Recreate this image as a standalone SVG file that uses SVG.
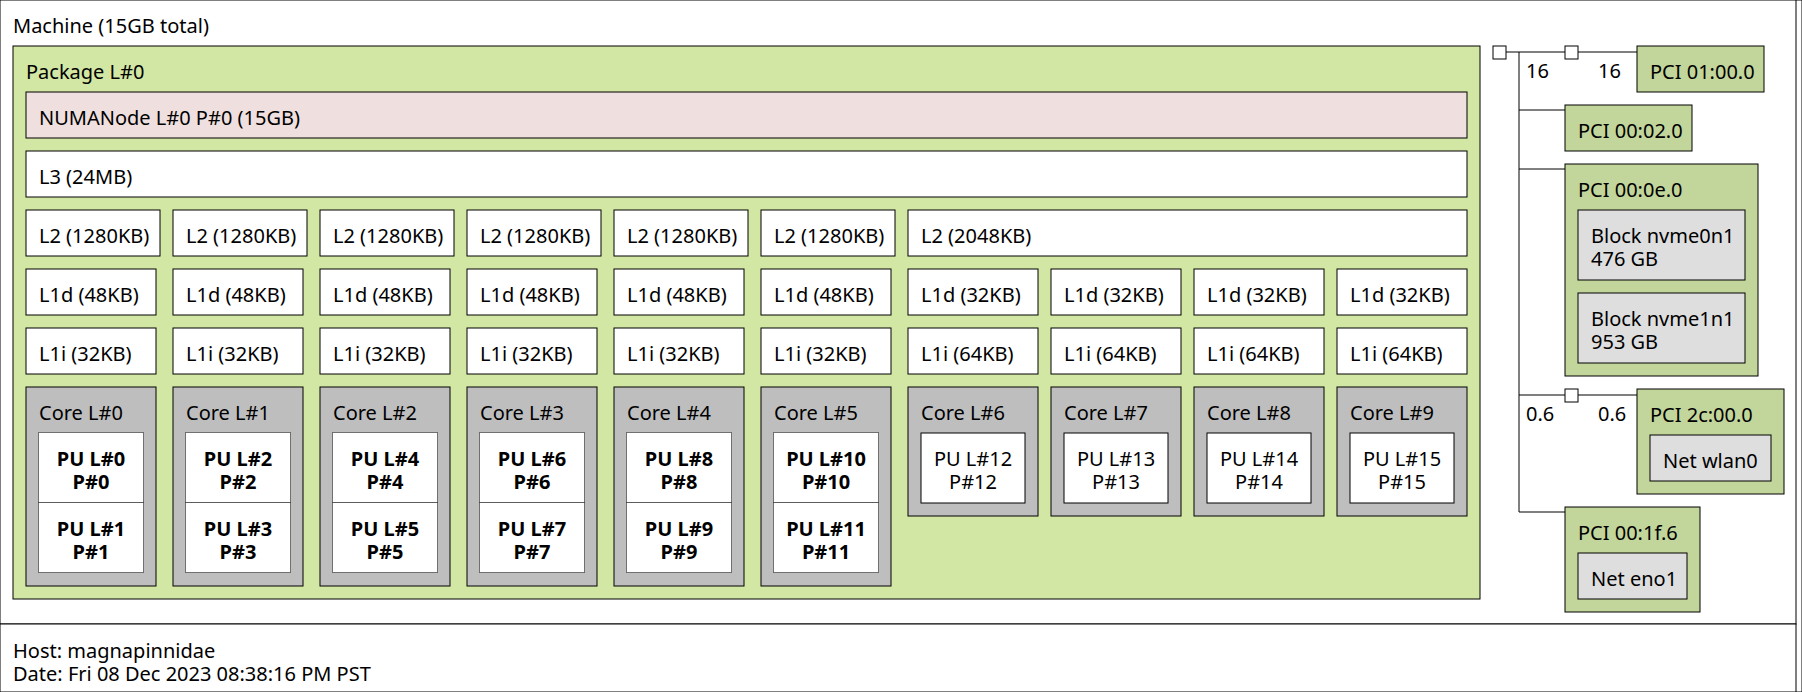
<svg xmlns="http://www.w3.org/2000/svg" width="1802" height="692" viewBox="0 0 1802 692">
<style>
text{font-family:"Noto Sans","Open Sans",sans-serif;font-size:20px;fill:#000}
rect{stroke:#000;stroke-width:1}
.pkg{fill:#d2e7a4}
.numa{fill:#efdfde}
.cache{fill:#fff}
.core{fill:#bebebe}
.pu{fill:#fff}
.pud{fill:#fff;stroke-dasharray:1 1}
.pci{fill:#c2d59b}
.os{fill:#dedede}
.br{fill:#fff}
.bd{font-weight:bold}
.c{text-anchor:middle}
.ln{stroke:#000;stroke-width:1;fill:none}
</style>
<rect x="0" y="0" width="1802" height="692" fill="#fff" stroke="none"/>
<g id="machine"><rect x="0" y="0" width="1796" height="624" fill="#fff"/><text x="13" y="33">Machine (15GB total)</text></g>
<g id="package"><rect class="pkg" x="13" y="46" width="1467" height="553"/><text x="26" y="79">Package L#0</text></g>
<g id="numa0"><rect class="numa" x="26" y="92" width="1441" height="46"/><text x="39" y="125">NUMANode L#0 P#0 (15GB)</text></g>
<g id="l3"><rect class="cache" x="26" y="151" width="1441" height="46"/><text x="39" y="184">L3 (24MB)</text></g>
<g id="l2-0"><rect class="cache" x="26" y="210" width="134" height="46"/><text x="39" y="243">L2 (1280KB)</text></g>
<g id="l2-1"><rect class="cache" x="173" y="210" width="134" height="46"/><text x="186" y="243">L2 (1280KB)</text></g>
<g id="l2-2"><rect class="cache" x="320" y="210" width="134" height="46"/><text x="333" y="243">L2 (1280KB)</text></g>
<g id="l2-3"><rect class="cache" x="467" y="210" width="134" height="46"/><text x="480" y="243">L2 (1280KB)</text></g>
<g id="l2-4"><rect class="cache" x="614" y="210" width="134" height="46"/><text x="627" y="243">L2 (1280KB)</text></g>
<g id="l2-5"><rect class="cache" x="761" y="210" width="134" height="46"/><text x="774" y="243">L2 (1280KB)</text></g>
<g id="l2-6"><rect class="cache" x="908" y="210" width="559" height="46"/><text x="921" y="243">L2 (2048KB)</text></g>
<g id="l1d-0"><rect class="cache" x="26" y="269" width="130" height="46"/><text x="39" y="302">L1d (48KB)</text></g>
<g id="l1d-1"><rect class="cache" x="173" y="269" width="130" height="46"/><text x="186" y="302">L1d (48KB)</text></g>
<g id="l1d-2"><rect class="cache" x="320" y="269" width="130" height="46"/><text x="333" y="302">L1d (48KB)</text></g>
<g id="l1d-3"><rect class="cache" x="467" y="269" width="130" height="46"/><text x="480" y="302">L1d (48KB)</text></g>
<g id="l1d-4"><rect class="cache" x="614" y="269" width="130" height="46"/><text x="627" y="302">L1d (48KB)</text></g>
<g id="l1d-5"><rect class="cache" x="761" y="269" width="130" height="46"/><text x="774" y="302">L1d (48KB)</text></g>
<g id="l1d-6"><rect class="cache" x="908" y="269" width="130" height="46"/><text x="921" y="302">L1d (32KB)</text></g>
<g id="l1d-7"><rect class="cache" x="1051" y="269" width="130" height="46"/><text x="1064" y="302">L1d (32KB)</text></g>
<g id="l1d-8"><rect class="cache" x="1194" y="269" width="130" height="46"/><text x="1207" y="302">L1d (32KB)</text></g>
<g id="l1d-9"><rect class="cache" x="1337" y="269" width="130" height="46"/><text x="1350" y="302">L1d (32KB)</text></g>
<g id="l1i-0"><rect class="cache" x="26" y="328" width="130" height="46"/><text x="39" y="361">L1i (32KB)</text></g>
<g id="l1i-1"><rect class="cache" x="173" y="328" width="130" height="46"/><text x="186" y="361">L1i (32KB)</text></g>
<g id="l1i-2"><rect class="cache" x="320" y="328" width="130" height="46"/><text x="333" y="361">L1i (32KB)</text></g>
<g id="l1i-3"><rect class="cache" x="467" y="328" width="130" height="46"/><text x="480" y="361">L1i (32KB)</text></g>
<g id="l1i-4"><rect class="cache" x="614" y="328" width="130" height="46"/><text x="627" y="361">L1i (32KB)</text></g>
<g id="l1i-5"><rect class="cache" x="761" y="328" width="130" height="46"/><text x="774" y="361">L1i (32KB)</text></g>
<g id="l1i-6"><rect class="cache" x="908" y="328" width="130" height="46"/><text x="921" y="361">L1i (64KB)</text></g>
<g id="l1i-7"><rect class="cache" x="1051" y="328" width="130" height="46"/><text x="1064" y="361">L1i (64KB)</text></g>
<g id="l1i-8"><rect class="cache" x="1194" y="328" width="130" height="46"/><text x="1207" y="361">L1i (64KB)</text></g>
<g id="l1i-9"><rect class="cache" x="1337" y="328" width="130" height="46"/><text x="1350" y="361">L1i (64KB)</text></g>
<g id="core0"><rect class="core" x="26" y="387" width="130" height="199"/><text x="39" y="420">Core L#0</text></g>
<g id="core1"><rect class="core" x="173" y="387" width="130" height="199"/><text x="186" y="420">Core L#1</text></g>
<g id="core2"><rect class="core" x="320" y="387" width="130" height="199"/><text x="333" y="420">Core L#2</text></g>
<g id="core3"><rect class="core" x="467" y="387" width="130" height="199"/><text x="480" y="420">Core L#3</text></g>
<g id="core4"><rect class="core" x="614" y="387" width="130" height="199"/><text x="627" y="420">Core L#4</text></g>
<g id="core5"><rect class="core" x="761" y="387" width="130" height="199"/><text x="774" y="420">Core L#5</text></g>
<g id="core6"><rect class="core" x="908" y="387" width="130" height="129"/><text x="921" y="420">Core L#6</text></g>
<g id="core7"><rect class="core" x="1051" y="387" width="130" height="129"/><text x="1064" y="420">Core L#7</text></g>
<g id="core8"><rect class="core" x="1194" y="387" width="130" height="129"/><text x="1207" y="420">Core L#8</text></g>
<g id="core9"><rect class="core" x="1337" y="387" width="130" height="129"/><text x="1350" y="420">Core L#9</text></g>
<g id="pu0"><rect class="pud" x="38.5" y="432.5" width="105" height="70"/><text class="bd c" x="91" y="466">PU L#0</text><text class="bd c" x="91" y="489">P#0</text></g>
<g id="pu1"><rect class="pud" x="38.5" y="502.5" width="105" height="70"/><text class="bd c" x="91" y="536">PU L#1</text><text class="bd c" x="91" y="559">P#1</text></g>
<g id="pu2"><rect class="pud" x="185.5" y="432.5" width="105" height="70"/><text class="bd c" x="238" y="466">PU L#2</text><text class="bd c" x="238" y="489">P#2</text></g>
<g id="pu3"><rect class="pud" x="185.5" y="502.5" width="105" height="70"/><text class="bd c" x="238" y="536">PU L#3</text><text class="bd c" x="238" y="559">P#3</text></g>
<g id="pu4"><rect class="pud" x="332.5" y="432.5" width="105" height="70"/><text class="bd c" x="385" y="466">PU L#4</text><text class="bd c" x="385" y="489">P#4</text></g>
<g id="pu5"><rect class="pud" x="332.5" y="502.5" width="105" height="70"/><text class="bd c" x="385" y="536">PU L#5</text><text class="bd c" x="385" y="559">P#5</text></g>
<g id="pu6"><rect class="pud" x="479.5" y="432.5" width="105" height="70"/><text class="bd c" x="532" y="466">PU L#6</text><text class="bd c" x="532" y="489">P#6</text></g>
<g id="pu7"><rect class="pud" x="479.5" y="502.5" width="105" height="70"/><text class="bd c" x="532" y="536">PU L#7</text><text class="bd c" x="532" y="559">P#7</text></g>
<g id="pu8"><rect class="pud" x="626.5" y="432.5" width="105" height="70"/><text class="bd c" x="679" y="466">PU L#8</text><text class="bd c" x="679" y="489">P#8</text></g>
<g id="pu9"><rect class="pud" x="626.5" y="502.5" width="105" height="70"/><text class="bd c" x="679" y="536">PU L#9</text><text class="bd c" x="679" y="559">P#9</text></g>
<g id="pu10"><rect class="pud" x="773.5" y="432.5" width="105" height="70"/><text class="bd c" x="826" y="466">PU L#10</text><text class="bd c" x="826" y="489">P#10</text></g>
<g id="pu11"><rect class="pud" x="773.5" y="502.5" width="105" height="70"/><text class="bd c" x="826" y="536">PU L#11</text><text class="bd c" x="826" y="559">P#11</text></g>
<g id="pu12"><rect class="pu" x="921" y="433" width="104" height="70"/><text class="c" x="973" y="466">PU L#12</text><text class="c" x="973" y="489">P#12</text></g>
<g id="pu13"><rect class="pu" x="1064" y="433" width="104" height="70"/><text class="c" x="1116" y="466">PU L#13</text><text class="c" x="1116" y="489">P#13</text></g>
<g id="pu14"><rect class="pu" x="1207" y="433" width="104" height="70"/><text class="c" x="1259" y="466">PU L#14</text><text class="c" x="1259" y="489">P#14</text></g>
<g id="pu15"><rect class="pu" x="1350" y="433" width="104" height="70"/><text class="c" x="1402" y="466">PU L#15</text><text class="c" x="1402" y="489">P#15</text></g>
<g id="connectors">
<path class="ln" d="M1506 52H1565M1578 52H1637M1519 52V512M1519 110H1565M1519 169H1565M1519 395H1565M1578 395H1637M1519 512H1565"/>
<text x="1526" y="78">16</text><text x="1598" y="78">16</text>
<text x="1526" y="421">0.6</text><text x="1598" y="421">0.6</text>
</g>
<g id="hostbridge"><rect class="br" x="1493" y="46" width="13" height="13"/></g>
<g id="bridge1"><rect class="br" x="1565" y="46" width="13" height="13"/></g>
<g id="bridge2"><rect class="br" x="1565" y="389" width="13" height="13"/></g>
<g id="pci0100"><rect class="pci" x="1637" y="46" width="127" height="46"/><text x="1650" y="79">PCI 01:00.0</text></g>
<g id="pci0002"><rect class="pci" x="1565" y="105" width="127" height="46"/><text x="1578" y="138">PCI 00:02.0</text></g>
<g id="pci000e"><rect class="pci" x="1565" y="164" width="193" height="212"/><text x="1578" y="197">PCI 00:0e.0</text></g>
<g id="nvme0n1"><rect class="os" x="1578" y="210" width="167" height="70"/><text x="1591" y="243">Block nvme0n1</text><text x="1591" y="266">476 GB</text></g>
<g id="nvme1n1"><rect class="os" x="1578" y="293" width="167" height="70"/><text x="1591" y="326">Block nvme1n1</text><text x="1591" y="349">953 GB</text></g>
<g id="pci2c00"><rect class="pci" x="1637" y="389" width="147" height="105"/><text x="1650" y="422">PCI 2c:00.0</text></g>
<g id="wlan0"><rect class="os" x="1650" y="435" width="121" height="46"/><text x="1663" y="468">Net wlan0</text></g>
<g id="pci001f"><rect class="pci" x="1565" y="507" width="135" height="105"/><text x="1578" y="540">PCI 00:1f.6</text></g>
<g id="eno1"><rect class="os" x="1578" y="553" width="109" height="46"/><text x="1591" y="586">Net eno1</text></g>
<g id="legend"><rect x="0" y="624" width="1796" height="68" fill="#fff"/><text x="13" y="658">Host: magnapinnidae</text><text x="13" y="681">Date: Fri 08 Dec 2023 08:38:16 PM PST</text></g>
</svg>
